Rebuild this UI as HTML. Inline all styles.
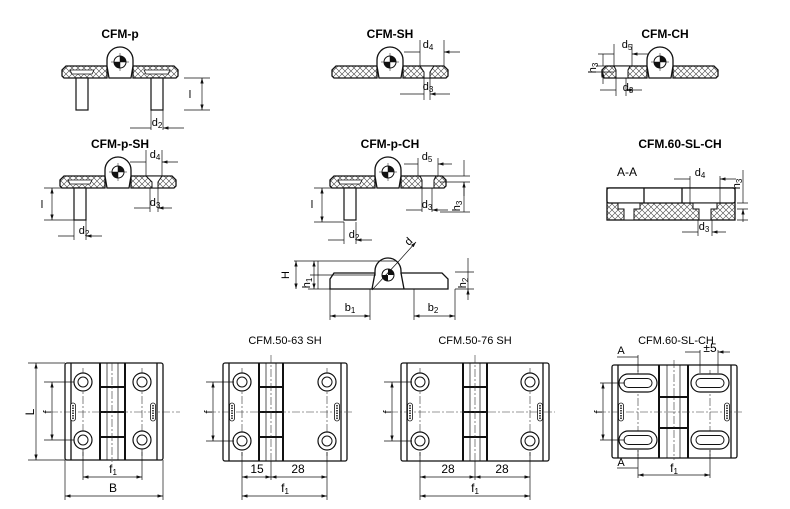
<!DOCTYPE html>
<html><head><meta charset="utf-8"><style>
html,body{margin:0;padding:0;background:#fff;}
svg{display:block;font-family:"Liberation Sans",Arial,sans-serif;}
.t{font-weight:bold;font-size:12px;text-anchor:middle;}
.n{font-size:11px;text-anchor:middle;}
.l{font-size:12px;text-anchor:middle;}
.o{fill:none;stroke:#111;stroke-width:1.3;}
.th{fill:none;stroke:#111;stroke-width:0.7;}
.thk{fill:none;stroke:#111;stroke-width:2;}
.cl{fill:none;stroke:#333;stroke-width:0.6;stroke-dasharray:8 2 2 2;}
</style></head><body>
<svg width="790" height="509" viewBox="0 0 790 509" xmlns="http://www.w3.org/2000/svg">
<defs>
<pattern id="h" width="6" height="6" patternUnits="userSpaceOnUse">
<rect width="6" height="6" fill="#fff"/>
<path d="M0,0L6,6M6,0L0,6" stroke="#444" stroke-width="0.6"/>
</pattern>
<marker id="a" viewBox="0 0 10 6" refX="10" refY="3" markerWidth="8" markerHeight="5" orient="auto-start-reverse">
<path d="M0,0L10,3L0,6Z" fill="#111"/>
</marker>
<g id="knuckle">
<path d="M-13,4 L-13,-2 A13,13 0 0 1 13,-2 L13,4 L11,16 L-11,16 Z" fill="#fff" stroke="#111" stroke-width="1.3"/>
<circle r="6" fill="#fff" stroke="#111" stroke-width="1"/>
<path d="M0,0 L0,-6 A6,6 0 0 1 6,0 Z M0,0 L0,6 A6,6 0 0 1 -6,0Z" fill="#111"/>
<path d="M-9,0H9M0,-9V9" stroke="#111" stroke-width="0.5"/>
</g>
<g id="plates">
<path d="M-58,8 L-54,4 L-13,4 L-13,16 L-56,16 L-58,14 Z" fill="url(#h)" stroke="#111" stroke-width="1.3"/>
<path d="M58,8 L54,4 L13,4 L13,16 L56,16 L58,14 Z" fill="url(#h)" stroke="#111" stroke-width="1.3"/>
</g>
<g id="hole">
<circle r="9" fill="#fff" stroke="#111" stroke-width="1.2"/>
<circle r="5" fill="none" stroke="#111" stroke-width="1"/>
</g>
<g id="slot">
<rect x="-19" y="-9" width="38" height="18" rx="9" fill="#fff" stroke="#111" stroke-width="1.2"/>
<rect x="-14" y="-4.5" width="28" height="9" rx="4.5" fill="none" stroke="#111" stroke-width="1"/>
</g>
<g id="logo"><rect x="-2.5" y="-9" width="5" height="18" rx="2.5" fill="#fff" stroke="#111" stroke-width="0.8"/><path d="M0,-7V7" stroke="#111" stroke-width="1.5" stroke-dasharray="1.5 1"/></g>
</defs>

<!-- ===== Row 1 ===== -->
<text class="t" x="120" y="38">CFM-p</text>
<g transform="translate(120,62)"><use href="#plates"/><use href="#knuckle"/>
<path d="M-50,8 L-26,8 L-28,12 L-48,12Z M24,8 L50,8 L48,12 L26,12Z" fill="#fff" stroke="#111" stroke-width="0.8"/>
<rect x="-44" y="16" width="12" height="32" fill="#fff" stroke="#111" stroke-width="1.2"/>
<rect x="31" y="16" width="12" height="32" fill="#fff" stroke="#111" stroke-width="1.2"/>
</g>
<path class="th" d="M184,78H210M184,110H210M151,110V130M163,110V130"/>
<path class="th" d="M202,78V110" marker-start="url(#a)" marker-end="url(#a)"/>
<path class="th" d="M130,128H151M184,128H163" marker-end="url(#a)"/>
<text class="n" x="190" y="98">l</text>
<text class="n" x="157" y="126">d<tspan font-size="8" dy="2">2</tspan></text>

<text class="t" x="390" y="38">CFM-SH</text>
<g transform="translate(390,62)"><use href="#plates"/><use href="#knuckle"/>
<path d="M30,4 L44,4 L40,10 L40,16 L34,16 L34,10Z" fill="#fff" stroke="#111" stroke-width="1"/></g>
<path class="th" d="M420,40V66M444,40V66M424,78V100M430,78V100"/>
<path class="th" d="M404,52H420M460,52H444" marker-end="url(#a)"/>
<path class="th" d="M400,94H424M450,94H430" marker-end="url(#a)"/>
<text class="n" x="428" y="48">d<tspan font-size="8" dy="2">4</tspan></text>
<text class="n" x="428" y="90">d<tspan font-size="8" dy="2">3</tspan></text>

<text class="t" x="665" y="38">CFM-CH</text>
<g transform="translate(660,62)"><use href="#plates"/><use href="#knuckle"/>
<path d="M-46,4 L-30,4 L-32,8 L-32,16 L-44,16 L-44,8Z" fill="#fff" stroke="#111" stroke-width="1"/></g>
<path class="th" d="M614,44V66M632,44V66M616,78V96M626,78V96M596,66H614M596,72H614"/>
<path class="th" d="M598,54H614M648,54H632" marker-end="url(#a)"/>
<path class="th" d="M600,90H616M642,90H626" marker-end="url(#a)"/>
<path class="th" d="M603,54V66M603,84V72" marker-end="url(#a)"/>
<text class="n" x="627" y="48">d<tspan font-size="8" dy="2">5</tspan></text>
<text class="n" x="628" y="91">d<tspan font-size="8" dy="2">3</tspan></text>
<text class="n" x="594" y="70" transform="rotate(-90 594 68)">h<tspan font-size="8" dy="2">3</tspan></text>

<!-- ===== Row 2 ===== -->
<text class="t" x="120" y="148">CFM-p-SH</text>
<g transform="translate(118,172)"><use href="#plates"/><use href="#knuckle"/>
<path d="M-50,8 L-26,8 L-28,12 L-48,12Z" fill="#fff" stroke="#111" stroke-width="0.8"/>
<path d="M28,4 L44,4 L40,10 L40,16 L34,16 L34,10Z" fill="#fff" stroke="#111" stroke-width="1"/>
<rect x="-44" y="16" width="12" height="32" fill="#fff" stroke="#111" stroke-width="1.2"/>
</g>
<path class="th" d="M44,188H74M44,220H74M74,220V240M86,220V240M146,150V176M162,150V176M150,188V212M158,188V212"/>
<path class="th" d="M52,188V220" marker-start="url(#a)" marker-end="url(#a)"/>
<path class="th" d="M58,236H74M102,236H86" marker-end="url(#a)"/>
<path class="th" d="M130,162H146M178,162H162" marker-end="url(#a)"/>
<path class="th" d="M134,208H150M172,208H158" marker-end="url(#a)"/>
<text class="n" x="42" y="208">l</text>
<text class="n" x="84" y="234">d<tspan font-size="8" dy="2">2</tspan></text>
<text class="n" x="155" y="158">d<tspan font-size="8" dy="2">4</tspan></text>
<text class="n" x="155" y="206">d<tspan font-size="8" dy="2">3</tspan></text>

<text class="t" x="390" y="148">CFM-p-CH</text>
<g transform="translate(388,172)"><use href="#plates"/><use href="#knuckle"/>
<path d="M-50,8 L-26,8 L-28,12 L-48,12Z" fill="#fff" stroke="#111" stroke-width="0.8"/>
<path d="M32,4 L48,4 L46,8 L46,16 L34,16 L34,8Z" fill="#fff" stroke="#111" stroke-width="1"/>
<rect x="-44" y="16" width="12" height="32" fill="#fff" stroke="#111" stroke-width="1.2"/>
</g>
<path class="th" d="M314,188H344M314,222H344M344,222V244M356,222V244M418,158V176M438,158V176M422,188V212M432,188V212M440,176H470M440,182H470M440,212H470"/>
<path class="th" d="M322,188V222" marker-start="url(#a)" marker-end="url(#a)"/>
<path class="th" d="M328,240H344M372,240H356" marker-end="url(#a)"/>
<path class="th" d="M404,164H418M452,164H438" marker-end="url(#a)"/>
<path class="th" d="M406,210H422M448,210H432" marker-end="url(#a)"/>
<path class="th" d="M464,160V176M464,196V182" marker-end="url(#a)"/>
<path class="th" d="M464,182V212"/>
<text class="n" x="312" y="208">l</text>
<text class="n" x="354" y="238">d<tspan font-size="8" dy="2">2</tspan></text>
<text class="n" x="427" y="160">d<tspan font-size="8" dy="2">5</tspan></text>
<text class="n" x="427" y="208">d<tspan font-size="8" dy="2">3</tspan></text>
<text class="n" x="458" y="208" transform="rotate(-90 458 206)">h<tspan font-size="8" dy="2">3</tspan></text>

<text class="t" x="680" y="148">CFM.60-SL-CH</text>
<text class="l" x="627" y="176">A-A</text>
<rect x="607" y="188" width="128" height="32" fill="url(#h)" stroke="#111" stroke-width="1.3"/>
<rect x="607" y="188" width="128" height="15" rx="2" fill="#fff" stroke="#111" stroke-width="1.3"/>
<path d="M644,188V203M682,188V203" class="o"/>
<path d="M618,203H640V209H634V220H624V209H618Z M693,203H717V209H711V220H699V209H693Z" fill="#fff" stroke="#111" stroke-width="1"/>
<path class="th" d="M690,176V203M720,176V203M698,220V236M712,220V236M737,203H748M737,209H748M737,220H748"/>
<path class="th" d="M674,179H690M736,179H720" marker-end="url(#a)"/>
<path class="th" d="M682,232H698M726,232H712" marker-end="url(#a)"/>
<path class="th" d="M743,170V203M743,222V209" marker-end="url(#a)"/>
<text class="n" x="700" y="176">d<tspan font-size="8" dy="2">4</tspan></text>
<text class="n" x="704" y="230">d<tspan font-size="8" dy="2">3</tspan></text>
<text class="n" x="738" y="186" transform="rotate(-90 738 184)">h<tspan font-size="8" dy="2">3</tspan></text>

<!-- middle dimension profile -->
<g transform="translate(388,275)">
<path d="M-58,14 L-58,4 L-54,-2 L-13,-2 L-13,-4 A13,13 0 0 1 13,-4 L13,-2 L54,-2 L60,4 L60,14 Z" fill="#fff" stroke="#111" stroke-width="1.3"/>
<path d="M-13,-2 L-16,14 M13,-2 L16,14" class="o"/>
<circle r="6" fill="#fff" stroke="#111" stroke-width="1"/>
<path d="M0,0 L0,-6 A6,6 0 0 1 6,0 Z M0,0 L0,6 A6,6 0 0 1 -6,0Z" fill="#111"/>
</g>
<path class="th" d="M308,261H396M308,289H330M310,275H376M330,289V320M370,289V320M414,289V320M455,289V320M455,289H474M455,272H474"/>
<path class="th" d="M294,261H308M318,275V261M318,275V289" />
<path class="th" d="M296,261V289" marker-start="url(#a)" marker-end="url(#a)"/>
<path class="th" d="M314,261V289" marker-start="url(#a)" marker-end="url(#a)"/>
<path class="th" d="M330,316H370" marker-start="url(#a)" marker-end="url(#a)"/>
<path class="th" d="M414,316H455" marker-start="url(#a)" marker-end="url(#a)"/>
<path class="th" d="M468,258V272M468,300V289" marker-end="url(#a)"/>
<path class="th" d="M468,272V289"/>
<path class="th" d="M372,290L398,262M398,262L416,242" marker-end="url(#a)"/>
<text class="n" x="286" y="278" transform="rotate(-90 286 275)">H</text>
<text class="n" x="307" y="286" transform="rotate(-90 307 283)">h<tspan font-size="8" dy="2">1</tspan></text>
<text class="n" x="463" y="286" transform="rotate(-90 463 283)">h<tspan font-size="8" dy="2">2</tspan></text>
<text class="n" x="350" y="311">b<tspan font-size="8" dy="2">1</tspan></text>
<text class="n" x="433" y="311">b<tspan font-size="8" dy="2">2</tspan></text>
<text class="n" x="411" y="244" transform="rotate(-45 411 244)">d</text>

<!-- ===== Row 3 top views ===== -->
<!-- H1 -->
<rect x="65" y="363" width="98" height="97" rx="2" class="o" fill="#fff"/>
<path class="o" d="M71,363V460M157,363V460"/>
<path class="thk" d="M100,363V460M125,363V460M100,387H125M100,412H125M100,437H125"/>
<path class="th" d="M107,363V460M118,363V460"/>
<path class="cl" d="M50,412H180M83,368V456M142,368V456M112,363V462"/>
<use href="#hole" x="83" y="382"/><use href="#hole" x="83" y="440"/>
<use href="#hole" x="142" y="382"/><use href="#hole" x="142" y="440"/>
<use href="#logo" x="73" y="412"/><use href="#logo" x="153" y="412"/>
<path class="th" d="M28,363H65M28,460H65M44,382H74M44,440H74M83,450V480M142,450V480M65,460V500M163,460V500"/>
<path class="th" d="M36,363V460" marker-start="url(#a)" marker-end="url(#a)"/>
<path class="th" d="M52,382V440" marker-start="url(#a)" marker-end="url(#a)"/>
<path class="th" d="M83,477H142" marker-start="url(#a)" marker-end="url(#a)"/>
<path class="th" d="M65,496H163" marker-start="url(#a)" marker-end="url(#a)"/>
<text class="l" x="31" y="415" transform="rotate(-90 31 412)">L</text>
<text class="n" x="48" y="415" transform="rotate(-90 48 412)">f</text>
<text class="l" x="113" y="473">f<tspan font-size="8" dy="2">1</tspan></text>
<text class="l" x="113" y="492">B</text>

<!-- H2 -->
<text class="n" x="285" y="344">CFM.50-63 SH</text>
<rect x="223" y="363" width="124" height="98" rx="2" class="o" fill="#fff"/>
<path class="o" d="M229,363V461M341,363V461"/>
<path class="thk" d="M259,363V461M283,363V461M259,387H283M259,412H283M259,437H283"/>
<path class="th" d="M266,363V461M276,363V461"/>
<path class="cl" d="M208,412H352M242,368V456M327,368V456M271,355V463"/>
<use href="#hole" x="242" y="382"/><use href="#hole" x="242" y="441"/>
<use href="#hole" x="327" y="382"/><use href="#hole" x="327" y="441"/>
<use href="#logo" x="232" y="412"/><use href="#logo" x="337" y="412"/>
<path class="th" d="M206,382H234M206,441H234M242,452V500M327,452V500M271,461V480"/>
<path class="th" d="M213,382V441" marker-start="url(#a)" marker-end="url(#a)"/>
<path class="th" d="M242,477H271" marker-start="url(#a)" marker-end="url(#a)"/>
<path class="th" d="M271,477H327" marker-start="url(#a)" marker-end="url(#a)"/>
<path class="th" d="M242,496H327" marker-start="url(#a)" marker-end="url(#a)"/>
<text class="n" x="209" y="415" transform="rotate(-90 209 412)">f</text>
<text class="l" x="257" y="473">15</text>
<text class="l" x="298" y="473">28</text>
<text class="l" x="285" y="492">f<tspan font-size="8" dy="2">1</tspan></text>

<!-- H3 -->
<text class="n" x="475" y="344">CFM.50-76 SH</text>
<rect x="401" y="363" width="148" height="98" rx="2" class="o" fill="#fff"/>
<path class="o" d="M407,363V461M543,363V461"/>
<path class="thk" d="M463,363V461M487,363V461M463,387H487M463,412H487M463,437H487"/>
<path class="th" d="M470,363V461M480,363V461"/>
<path class="cl" d="M390,412H555M420,368V456M530,368V456M475,355V463"/>
<use href="#hole" x="420" y="382"/><use href="#hole" x="420" y="441"/>
<use href="#hole" x="530" y="382"/><use href="#hole" x="530" y="441"/>
<use href="#logo" x="410" y="412"/><use href="#logo" x="540" y="412"/>
<path class="th" d="M384,382H412M384,441H412M420,452V500M530,452V500M475,461V480"/>
<path class="th" d="M392,382V441" marker-start="url(#a)" marker-end="url(#a)"/>
<path class="th" d="M420,477H475" marker-start="url(#a)" marker-end="url(#a)"/>
<path class="th" d="M475,477H530" marker-start="url(#a)" marker-end="url(#a)"/>
<path class="th" d="M420,496H530" marker-start="url(#a)" marker-end="url(#a)"/>
<text class="n" x="388" y="415" transform="rotate(-90 388 412)">f</text>
<text class="l" x="448" y="473">28</text>
<text class="l" x="502" y="473">28</text>
<text class="l" x="475" y="492">f<tspan font-size="8" dy="2">1</tspan></text>

<!-- H4 -->
<text class="n" x="676" y="344">CFM.60-SL-CH</text>
<rect x="612" y="365" width="125" height="93" rx="2" class="o" fill="#fff"/>
<path class="o" d="M618,365V458M731,365V458"/>
<path class="thk" d="M659,365V458M688,365V458M659,397H688M659,428H688"/>
<path class="th" d="M667,365V458M680,365V458"/>
<path class="cl" d="M598,412H742M638,370V456M710,370V456M674,360V460"/>
<use href="#slot" x="638" y="383"/><use href="#slot" x="638" y="440"/>
<use href="#slot" x="710" y="383"/><use href="#slot" x="710" y="440"/>
<use href="#logo" x="621" y="412"/><use href="#logo" x="727" y="412"/>
<path class="th" d="M600,383H625M600,440H625M638,450V478M710,450V478M638,355V372M700,350V373M718,350V373"/>
<path class="th" d="M603,383V440" marker-start="url(#a)" marker-end="url(#a)"/>
<path class="th" d="M638,475H710" marker-start="url(#a)" marker-end="url(#a)"/>
<path class="th" d="M685,352H700M730,352H718" marker-end="url(#a)"/>
<path class="th" d="M617,357H638M617,468H638"/>
<text class="n" x="599" y="415" transform="rotate(-90 599 412)">f</text>
<text class="n" x="621" y="354" font-size="8">A</text>
<text class="n" x="621" y="466" font-size="8">A</text>
<text class="l" x="710" y="352">±5</text>
<text class="l" x="674" y="472">f<tspan font-size="8" dy="2">1</tspan></text>
</svg>
</body></html>
